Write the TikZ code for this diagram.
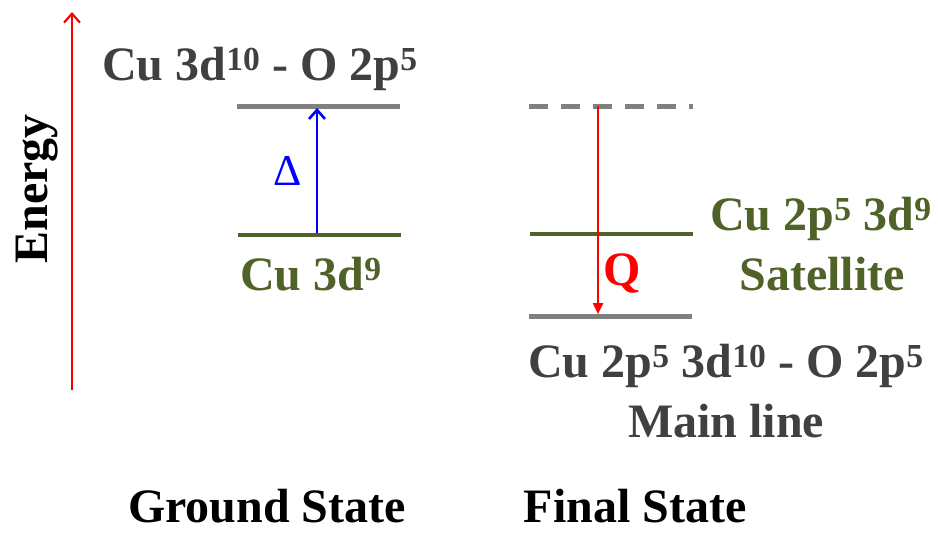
\documentclass[tikz,border=0pt]{standalone}
\usepackage{fontspec}
\setmainfont{Liberation Serif}
\usetikzlibrary{arrows.meta}
\definecolor{lvlgray}{HTML}{808080}
\definecolor{txtgray}{HTML}{404040}
\definecolor{olive}{HTML}{4F6228}
\tikzset{
  lbl/.style={font=\fontsize{48}{56}\selectfont\bfseries, inner sep=0pt, anchor=base},
  graylevel/.style={draw=lvlgray, line width=5pt},
  greenlevel/.style={draw=olive, line width=4.5pt},
}
\begin{document}
\begin{tikzpicture}[x=1pt,y=-1pt]
\useasboundingbox (0,0) rectangle (938,533);
% coordinates
\coordinate (eB) at (72,390);
\coordinate (eT) at (72,12);
\coordinate (gTL) at (237,106);
\coordinate (gTR) at (400,106);
\coordinate (gBL) at (238,235);
\coordinate (gBR) at (401,235);
\coordinate (fTL) at (529,106);
\coordinate (fTR) at (693,106);
\coordinate (fML) at (530,234);
\coordinate (fMR) at (693,234);
\coordinate (fBL) at (529,316);
\coordinate (fBR) at (692,316);
\coordinate (dB) at (317,233);
\coordinate (dT) at (317,108);
\coordinate (qT) at (598,106);
\coordinate (qB) at (598,314);
% energy axis
\draw[red, line width=2.2pt, -{Straight Barb[length=9pt,width=16pt,line width=2.2pt]}] (eB) -- (eT);
\node[lbl, rotate=90, anchor=base] (energy) at (47,189) {Energy};
% ground state levels
\draw[graylevel] (gTL) -- (gTR);
\draw[greenlevel] (gBL) -- (gBR);
\draw[blue, line width=2.6pt, -{Straight Barb[length=9pt,width=16pt,line width=2.6pt]}] (dB) -- (dT);
\node[lbl, text=blue, font=\fontsize{44}{52}\selectfont] (delta) at (288,185) {Δ};
\node[lbl, text=txtgray] (gtop) at (260,80) {Cu 3d\textsuperscript{10} - O 2p\textsuperscript{5}};
\node[lbl, text=olive] (gbot) at (311,290) {Cu 3d\textsuperscript{9}};
% final state levels
\draw[graylevel, dash pattern=on 19pt off 13pt] (fTL) -- (fTR);
\draw[greenlevel] (fML) -- (fMR);
\draw[graylevel] (fBL) -- (fBR);
\draw[red, line width=2.4pt, -{Triangle[length=11pt,width=10pt]}] (qT) -- (qB);
\node[lbl, text=red] (q) at (622,285) {Q};
\node[lbl, text=olive] (sat1) at (821,230) {Cu 2p\textsuperscript{5} 3d\textsuperscript{9}};
\node[lbl, text=olive] (sat2) at (822,290) {Satellite};
\node[lbl, text=txtgray] (main1) at (726,377) {Cu 2p\textsuperscript{5} 3d\textsuperscript{10} - O 2p\textsuperscript{5}};
\node[lbl, text=txtgray] (main2) at (726,437) {Main line};
% bottom labels
\node[lbl] (ground) at (267,522) {Ground State};
\node[lbl] (final) at (635,522) {Final State};
\end{tikzpicture}
\end{document}
